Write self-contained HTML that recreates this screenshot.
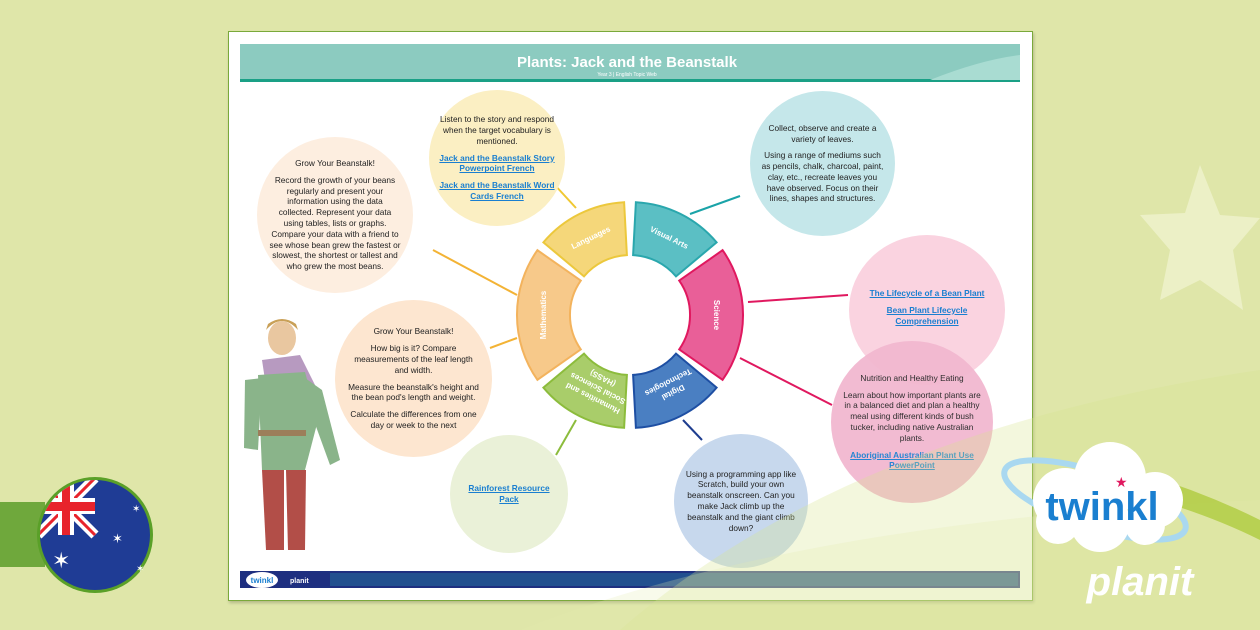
<!DOCTYPE html>
<html><head><meta charset="utf-8"><style>
*{margin:0;padding:0;box-sizing:border-box}
body{width:1260px;height:630px;overflow:hidden;background:#dfe6a9;font-family:"Liberation Sans",sans-serif;position:relative}
.card{position:absolute;left:228px;top:31px;width:805px;height:570px;background:#fff;border:1.5px solid #7aa93a;box-shadow:1px 2px 3px rgba(0,0,0,.2)}
.c{position:absolute;border-radius:50%;display:flex;flex-direction:column;align-items:center;justify-content:center;text-align:center;font-size:8.3px;line-height:10.8px;color:#222;padding:12px}
.c p{margin:3px 0}
.c a{color:#1a7fd0;text-decoration:underline;font-weight:bold}
</style></head><body>
<svg width="1260" height="630" style="position:absolute;left:0;top:0">
<polygon points="1200,165 1220,215 1260,218 1233,250 1243,310 1200,280 1160,300 1170,250 1140,215 1185,213" fill="#ecf0c6"/>
<rect x="0" y="502" width="45" height="65" fill="#6fa83c"/>
<circle cx="95" cy="535" r="58" fill="#5aa028"/>
<circle cx="95" cy="535" r="55" fill="#1f3c95"/>
<clipPath id="fl"><circle cx="95" cy="535" r="55"/></clipPath>
<g clip-path="url(#fl)">
<rect x="38" y="478" width="57" height="57" fill="#1f3c95"/>
<path d="M38,478 L95,535 M95,478 L38,535" stroke="#fff" stroke-width="10"/>
<path d="M38,478 L95,535 M95,478 L38,535" stroke="#e8232b" stroke-width="3"/>
<rect x="38" y="498" width="57" height="16" fill="#fff"/><rect x="58" y="478" width="16" height="57" fill="#fff"/>
<rect x="38" y="502" width="57" height="9" fill="#e8232b"/><rect x="62" y="478" width="8" height="57" fill="#e8232b"/>
</g>
<text x="52" y="568" fill="#fff" font-size="22">✶</text><text x="112" y="543" fill="#fff" font-size="13">✶</text>
<text x="132" y="512" fill="#fff" font-size="10">✶</text><text x="136" y="572" fill="#fff" font-size="10">✶</text>
</svg>
<div class="card"></div>
<svg width="1260" height="630" style="position:absolute;left:0;top:0">
<rect x="240" y="44" width="780" height="36" fill="#8ccbc0"/>
<rect x="240" y="79" width="780" height="3" fill="#1aa086"/>
<path d="M930,80 Q980,60 1020,55 L1020,80 Z" fill="#a9dcd2"/>
<text x="627" y="67" text-anchor="middle" fill="#fff" font-size="15" font-weight="bold">Plants: Jack and the Beanstalk</text>
<text x="627" y="76" text-anchor="middle" fill="#fff" font-size="5">Year 3 | English Topic Web</text>
<g stroke-width="2" fill="none">
<line x1="553" y1="183" x2="576" y2="208" stroke="#f0c832"/>
<line x1="690" y1="214" x2="740" y2="196" stroke="#1aa3a8"/>
<line x1="748" y1="302" x2="848" y2="295" stroke="#e0185f"/>
<line x1="740" y1="358" x2="832" y2="405" stroke="#e0185f"/>
<line x1="683" y1="420" x2="702" y2="440" stroke="#1e3d8f"/>
<line x1="576" y1="420" x2="556" y2="455" stroke="#8cbc3c"/>
<line x1="517" y1="295" x2="433" y2="250" stroke="#f3b335"/>
<line x1="517" y1="338" x2="490" y2="348" stroke="#f3b335"/>
</g>
<g stroke-width="2">
<path d="M635.9,202.2 A113,113 0 0 1 716.6,242.4 L676,276.4 A60,60 0 0 0 633.1,255.1 Z" fill="#5bbfc4" stroke="#2aa7ad"/>
<path d="M624.1,202.2 A113,113 0 0 0 543.4,242.4 L584,276.4 A60,60 0 0 1 626.9,255.1 Z" fill="#f5d77a" stroke="#ecc83c"/>
<path d="M722.6,250.2 A113,113 0 0 1 722.6,379.8 L679.2,349.4 A60,60 0 0 0 679.2,280.6 Z" fill="#e95f98" stroke="#e0185f"/>
<path d="M537.4,250.2 A113,113 0 0 0 537.4,379.8 L580.8,349.4 A60,60 0 0 1 580.8,280.6 Z" fill="#f7c98a" stroke="#f3b35d"/>
<path d="M716.6,387.6 A113,113 0 0 1 635.9,427.8 L633.1,374.9 A60,60 0 0 0 676,353.6 Z" fill="#4a7fc2" stroke="#1e4fa3"/>
<path d="M543.4,387.6 A113,113 0 0 0 624.1,427.8 L626.9,374.9 A60,60 0 0 1 584,353.6 Z" fill="#a9cd6a" stroke="#8cbc3c"/>
</g>
<g fill="#fff" font-size="8" font-weight="bold" text-anchor="middle">
<text transform="translate(592,240) rotate(-26)">Languages</text>
<text transform="translate(668,240) rotate(26)">Visual Arts</text>
<text transform="translate(714,315) rotate(90)">Science</text>
<text transform="translate(546,315) rotate(-90)">Mathematics</text>
<text transform="translate(672,390) rotate(153)">Digital</text>
<text transform="translate(667,380) rotate(153)">Technologies</text>
<text transform="translate(594,396) rotate(207)">Humanities and</text>
<text transform="translate(599,386) rotate(207)">Social Sciences</text>
<text transform="translate(604,376) rotate(207)">(HASS)</text>
</g>
<g>
<ellipse cx="282" cy="338" rx="14" ry="17" fill="#e9c7a0"/>
<path d="M266,330 Q282,312 298,330 L296,324 Q282,314 268,324Z" fill="#c9a057"/>
<path d="M262,360 L300,355 L315,385 L300,400 L268,400 Z" fill="#b79ac0"/>
<path d="M258,375 L305,372 L318,420 L305,470 L262,470 Z" fill="#8ab48a"/>
<path d="M245,380 L262,378 L258,450 L244,448Z" fill="#8ab48a"/>
<path d="M305,378 L322,390 L340,460 L330,465 L310,410Z" fill="#8ab48a"/>
<rect x="258" y="430" width="48" height="6" fill="#9c7e5a"/>
<path d="M262,470 L284,470 L284,550 L266,550Z" fill="#b24e48"/>
<path d="M286,470 L306,470 L305,550 L288,550Z" fill="#b24e48"/>
</g>
<rect x="240" y="571" width="780" height="17" fill="#1e2f80"/>
<rect x="330" y="573" width="688" height="13" fill="#22508f"/>
<ellipse cx="262" cy="580" rx="16" ry="8" fill="#fff"/>
<text x="262" y="583" text-anchor="middle" fill="#1a7fd0" font-size="8" font-weight="bold">twinkl</text>
<text x="290" y="583" fill="#fff" font-size="7" font-weight="bold">planit</text>
</svg>

<div class="c" style="left:257px;top:137px;width:156px;height:156px;background:#fdeee0"><p>Grow Your Beanstalk!</p><p>Record the growth of your beans regularly and present your information using the data collected. Represent your data using tables, lists or graphs. Compare your data with a friend to see whose bean grew the fastest or slowest, the shortest or tallest and who grew the most beans.</p></div>
<div class="c" style="left:429px;top:90px;width:136px;height:136px;background:#fbefc3;padding:9px"><p>Listen to the story and respond when the target vocabulary is mentioned.</p><p><a>Jack and the Beanstalk Story Powerpoint French</a></p><p><a>Jack and the Beanstalk Word Cards French</a></p></div>
<div class="c" style="left:750px;top:91px;width:145px;height:145px;background:#c5e7ea;padding:9px"><p>Collect, observe and create a variety of leaves.</p><p>Using a range of mediums such as pencils, chalk, charcoal, paint, clay, etc., recreate leaves you have observed. Focus on their lines, shapes and structures.</p></div>
<div class="c" style="left:849px;top:235px;width:156px;height:150px;background:#fad3e0;justify-content:flex-start;padding-top:50px"><p><a>The Lifecycle of a Bean Plant</a></p><p><a>Bean Plant Lifecycle Comprehension</a></p></div>
<div class="c" style="left:831px;top:341px;width:162px;height:162px;background:#f2b8d0;opacity:.95;padding:8px"><p>Nutrition and Healthy Eating</p><p>Learn about how important plants are in a balanced diet and plan a healthy meal using different kinds of bush tucker, including native Australian plants.</p><p><a>Aboriginal Australian Plant Use PowerPoint</a></p></div>
<div class="c" style="left:674px;top:434px;width:134px;height:134px;background:#c7d8ed;padding:10px"><p>Using a programming app like Scratch, build your own beanstalk onscreen. Can you make Jack climb up the beanstalk and the giant climb down?</p></div>
<div class="c" style="left:450px;top:435px;width:118px;height:118px;background:#eaf1d8"><p><a>Rainforest Resource Pack</a></p></div>
<div class="c" style="left:335px;top:300px;width:157px;height:157px;background:#fde6d0"><p>Grow Your Beanstalk!</p><p>How big is it? Compare measurements of the leaf length and width.</p><p>Measure the beanstalk's height and the bean pod's length and weight.</p><p>Calculate the differences from one day or week to the next</p></div>

<svg width="1260" height="630" style="position:absolute;left:0;top:0">
<path d="M620,630 Q850,430 1260,370 L1260,630 Z" fill="#d6e48e" opacity=".3"/>
<path d="M520,630 Q800,520 1260,500 L1260,630 Z" fill="#e2ecb0" opacity=".25"/>
<path d="M1130,470 Q1200,490 1260,520 L1260,540 Q1200,510 1120,490Z" fill="#a8c830" opacity=".7"/>
<ellipse cx="1095" cy="500" rx="95" ry="28" fill="none" stroke="#a9d8f0" stroke-width="6" transform="rotate(18 1095 500)"/>
<g fill="#fff">
<circle cx="1065" cy="500" r="32"/><circle cx="1110" cy="478" r="36"/><circle cx="1155" cy="500" r="28"/><circle cx="1100" cy="522" r="30"/><circle cx="1058" cy="522" r="22"/><circle cx="1145" cy="525" r="20"/>
</g>
<text x="1102" y="520" text-anchor="middle" fill="#1a7fd0" font-size="40" font-weight="bold">twinkl</text>
<text x="1115" y="487" fill="#e0185f" font-size="14">★</text>
<text x="1140" y="595" text-anchor="middle" fill="#fff" font-size="40" font-weight="bold" font-style="italic">planit</text>
</svg>
</body></html>
